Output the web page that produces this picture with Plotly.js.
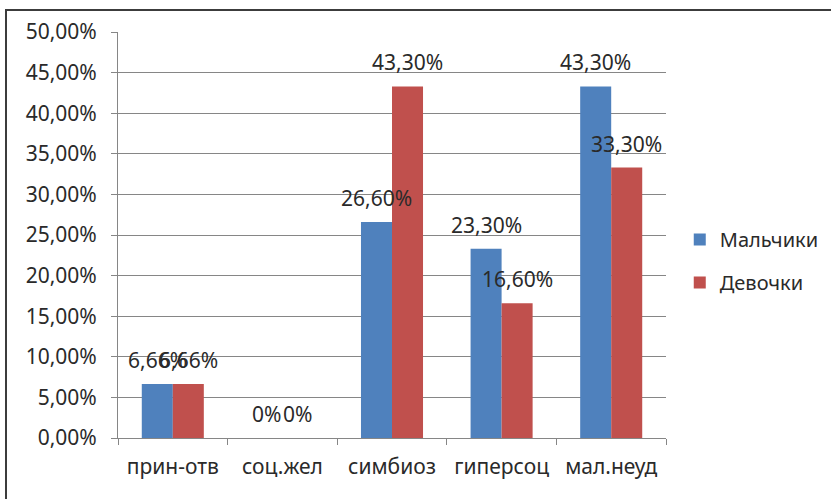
<!DOCTYPE html>
<html>
<head>
<meta charset="utf-8">
<script src="https://cdn.plot.ly/plotly-3.0.1.min.js"></script>
<style>
  html, body { margin: 0; padding: 0; background: #fff; overflow: hidden; }
  #frame { position: absolute; left: 5px; top: 9px; width: 900px; height: 600px; border: 2px solid #3c3c3c; box-sizing: border-box; }
  #chart { position: absolute; left: 0; top: 0; width: 831px; height: 499px; }
</style>
</head>
<body>
<div id="frame"></div>
<div id="chart"></div>
<script>
const categories = ['прин-отв', 'соц.жел', 'симбиоз', 'гиперсоц', 'мал.неуд'];
const boys = [6.66, 0, 26.6, 23.3, 43.3];
const girls = [6.66, 0, 43.3, 16.6, 33.3];
const seriesNames = ['Мальчики', 'Девочки'];
const seriesColors = ['#4F81BD', '#C0504D'];
const yTicks = [0, 5, 10, 15, 20, 25, 30, 35, 40, 45, 50];

const FONT = 'Noto Sans, Open Sans, sans-serif';
const TXT = '#2a2a2a';
const FS = 21;

function fmt(v) {
  return v === 0 ? '0%' : v.toFixed(2).replace('.', ',') + '%';
}

const series = [boys, girls];
const traces = series.map((vals, i) => ({
  type: 'bar',
  name: seriesNames[i],
  x: categories,
  y: vals,
  marker: { color: seriesColors[i], line: { width: 0 } },
  legendgroup: 'g' + i,
  hoverinfo: 'none'
}));

const annotations = [];
series.forEach((vals, i) => {
  vals.forEach((v, j) => {
    annotations.push({
      x: categories[j], y: v, xref: 'x', yref: 'y',
      text: fmt(v), showarrow: false,
      xshift: i === 0 ? -15.5 : 15.5, yshift: 24,
      yanchor: 'middle', xanchor: 'center',
      font: { family: FONT, size: FS, color: TXT }
    });
  });
});

const layout = {
  width: 831, height: 499,
  margin: { l: 118, r: 165, t: 32, b: 61, autoexpand: false },
  paper_bgcolor: 'rgba(0,0,0,0)',
  plot_bgcolor: 'rgba(0,0,0,0)',
  barmode: 'group',
  bargap: 0.434,
  bargroupgap: 0,
  showlegend: true,
  legend: {
    xref: 'container', yref: 'container',
    x: 0.818, y: 0.477, xanchor: 'left', yanchor: 'middle',
    font: { family: FONT, size: 20, color: TXT },
    traceorder: 'grouped', tracegroupgap: 14,
    bgcolor: 'rgba(0,0,0,0)'
  },
  xaxis: {
    type: 'category',
    showline: true, linecolor: '#868686', linewidth: 1,
    ticks: 'outside', tickson: 'boundaries', ticklen: 6, tickcolor: '#868686',
    tickfont: { family: FONT, size: FS, color: TXT },
    ticklabelstandoff: 10,
    showgrid: false, zeroline: false
  },
  yaxis: {
    range: [0, 50],
    tickvals: yTicks,
    ticktext: yTicks.map(t => t.toFixed(2).replace('.', ',') + '%'),
    showline: true, linecolor: '#868686', linewidth: 1,
    ticks: 'outside', ticklen: 6, tickcolor: '#868686',
    tickfont: { family: FONT, size: FS, color: TXT },
    ticklabelstandoff: 10,
    showgrid: true, gridcolor: '#868686', gridwidth: 1,
    zeroline: false
  },
  annotations: annotations
};

Plotly.newPlot('chart', traces, layout, { displayModeBar: false, staticPlot: true });
</script>
</body>
</html>
